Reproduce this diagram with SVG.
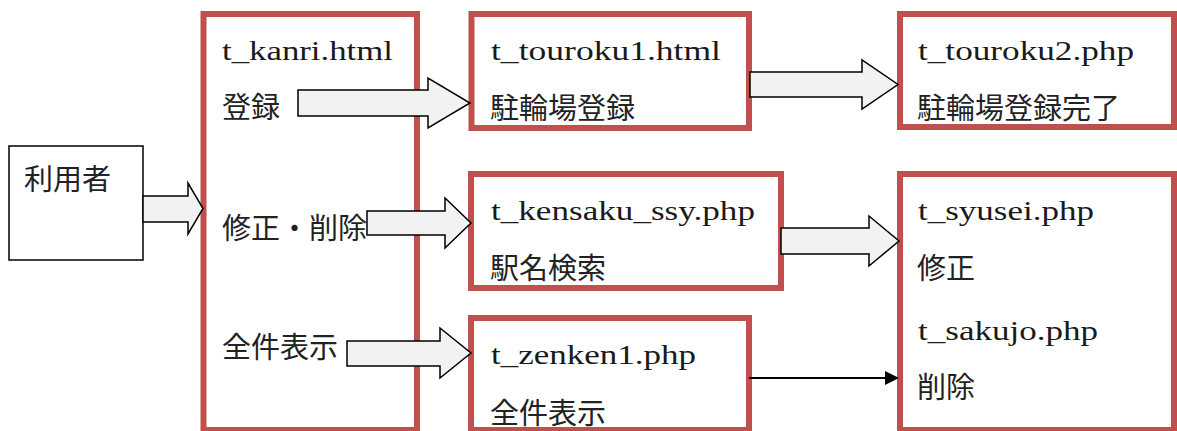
<svg xmlns="http://www.w3.org/2000/svg" width="1177" height="431" viewBox="0 0 1177 431">
<style>
.box{fill:#fff;stroke:#c0504d;stroke-width:6}
.user{fill:#fff;stroke:#000;stroke-width:1.5}
.lat{font-family:"Liberation Serif",serif;font-size:28px;fill:#1a1a1a}
.jp{font-family:"Noto Sans CJK JP",sans-serif;font-size:29px;fill:#222}
.blk{fill:#f2f2f2;stroke:#000;stroke-width:1.5;stroke-linejoin:miter}
.ln{stroke:#000;stroke-width:2;fill:none}
</style>
<defs>
<marker id="ah" markerWidth="14" markerHeight="14" refX="0" refY="7" orient="auto" markerUnits="userSpaceOnUse" viewBox="0 0 14 14">
<path d="M0,0 L14,7 L0,14 Z" fill="#000"/>
</marker>
</defs>
<rect width="1177" height="431" fill="#fff"/>
<g id="user">
<rect class="user" x="9" y="146" width="134" height="114"/>
<text class="jp" x="24" y="190">利用者</text>
</g>
<g id="t_kanri">
<rect class="box" x="203.5" y="14" width="213.5" height="416"/>
<text class="lat" x="222" y="60" textLength="171" lengthAdjust="spacingAndGlyphs">t_kanri.html</text>
<text class="jp" x="222" y="118">登録</text>
<text class="jp" x="222" y="239">修正・削除</text>
<text class="jp" x="222" y="358">全件表示</text>
</g>
<g id="t_touroku1">
<rect class="box" x="471.5" y="14" width="277.5" height="114"/>
<text class="lat" x="491" y="60" textLength="230" lengthAdjust="spacingAndGlyphs">t_touroku1.html</text>
<text class="jp" x="490" y="119">駐輪場登録</text>
</g>
<g id="t_touroku2">
<rect class="box" x="900" y="14" width="274" height="113"/>
<text class="lat" x="918" y="60" textLength="216" lengthAdjust="spacingAndGlyphs">t_touroku2.php</text>
<text class="jp" x="917" y="119">駐輪場登録完了</text>
</g>
<g id="t_kensaku_ssy">
<rect class="box" x="471" y="174" width="310" height="114"/>
<text class="lat" x="491" y="220" textLength="264" lengthAdjust="spacingAndGlyphs">t_kensaku_ssy.php</text>
<text class="jp" x="490" y="279">駅名検索</text>
</g>
<g id="t_zenken1">
<rect class="box" x="471" y="318" width="278" height="112"/>
<text class="lat" x="491" y="364" textLength="205" lengthAdjust="spacingAndGlyphs">t_zenken1.php</text>
<text class="jp" x="490" y="424">全件表示</text>
</g>
<g id="t_syusei_sakujo">
<rect class="box" x="900" y="174" width="274" height="256"/>
<text class="lat" x="918" y="220" textLength="176" lengthAdjust="spacingAndGlyphs">t_syusei.php</text>
<text class="jp" x="917" y="279">修正</text>
<text class="lat" x="918" y="340" textLength="180" lengthAdjust="spacingAndGlyphs">t_sakujo.php</text>
<text class="jp" x="917" y="398">削除</text>
</g>
<g id="connectors">
<path class="blk" d="M143,196 H188 V183 L203,208.5 L188,234 V222 H143 Z"/>
<path class="blk" d="M298,90 H428 V78 L470,103 L428,128 V116 H298 Z"/>
<path class="blk" d="M750,72 H862 V60 L898,84.5 L862,109 V97 H750 Z"/>
<path class="blk" d="M367,211 H445 V198 L471,223 L445,248 V235 H367 Z"/>
<path class="blk" d="M781,228 H869 V216 L899,241 L869,266 V254 H781 Z"/>
<path class="blk" d="M347,341 H440 V328 L471,353 L440,378 V366 H347 Z"/>
<line class="ln" x1="749" y1="378" x2="885" y2="378" marker-end="url(#ah)"/>
</g>
</svg>
